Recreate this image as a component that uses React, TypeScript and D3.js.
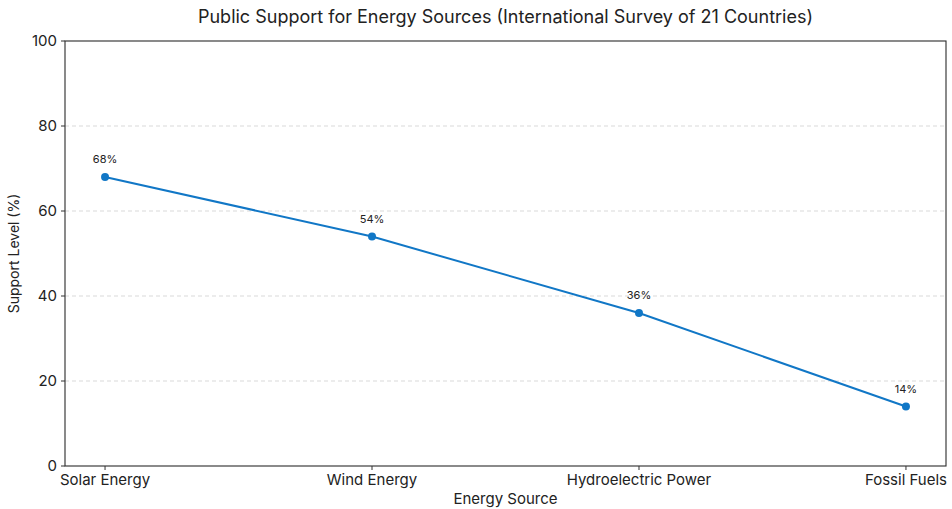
import React from "react";
import * as d3 from "d3";

const categories = ["Solar Energy", "Wind Energy", "Hydroelectric Power", "Fossil Fuels"];
const support = [68, 54, 36, 14];
const yTicks = [0, 20, 40, 60, 80, 100];

const W = 952;
const H = 509;
const M = { left: 65, right: 6, top: 41, bottom: 43 };
const FONT = "Inter, 'Noto Sans', sans-serif";
const BLUE = "#1177c6";

export default function App() {
  const x = d3
    .scalePoint<string>()
    .domain(categories)
    .range([M.left, W - M.right])
    .padding(0.15);
  const y = d3.scaleLinear().domain([0, 100]).range([H - M.bottom, M.top]);
  const line = d3
    .line<number>()
    .x((_, i) => x(categories[i])!)
    .y((d) => y(d));

  return (
    <svg
      width={W}
      height={H}
      style={{ position: "absolute", left: 0, top: 0, background: "#fff" }}
      fontFamily={FONT}
    >
      {yTicks.slice(1, -1).map((t) => (
        <line
          key={t}
          x1={M.left}
          x2={W - M.right}
          y1={y(t)}
          y2={y(t)}
          stroke="#cfcfcf"
          strokeDasharray="4,3"
          strokeWidth={0.8}
        />
      ))}
      <rect
        x={M.left}
        y={M.top}
        width={W - M.right - M.left}
        height={H - M.bottom - M.top}
        fill="none"
        stroke="#2a2a2a"
        strokeWidth={1.1}
      />
      {yTicks.map((t) => (
        <g key={t}>
          <line x1={M.left - 4} x2={M.left} y1={y(t)} y2={y(t)} stroke="#333" />
          <text x={M.left - 8} y={y(t)} dy="0.35em" textAnchor="end" fontSize={15} fill="#222">
            {t}
          </text>
        </g>
      ))}
      {categories.map((c) => (
        <g key={c}>
          <line x1={x(c)} x2={x(c)} y1={H - M.bottom} y2={H - M.bottom + 4} stroke="#333" />
          <text x={x(c)} y={H - M.bottom + 19} textAnchor="middle" fontSize={15} fill="#222">
            {c}
          </text>
        </g>
      ))}
      <path d={line(support)!} fill="none" stroke={BLUE} strokeWidth={2} />
      {support.map((v, i) => (
        <g key={i}>
          <circle cx={x(categories[i])} cy={y(v)} r={4} fill={BLUE} />
          <text x={x(categories[i])} y={y(v) - 14} textAnchor="middle" fontSize={11} fill="#222">
            {v}%
          </text>
        </g>
      ))}
      <text x={(M.left + W - M.right) / 2} y={23} textAnchor="middle" fontSize={18} fill="#222">
        Public Support for Energy Sources (International Survey of 21 Countries)
      </text>
      <text x={(M.left + W - M.right) / 2} y={504} textAnchor="middle" fontSize={15} fill="#222">
        Energy Source
      </text>
      <text
        transform={`translate(19,${(M.top + H - M.bottom) / 2}) rotate(-90)`}
        textAnchor="middle"
        fontSize={14}
        fill="#222"
      >
        Support Level (%)
      </text>
    </svg>
  );
}
